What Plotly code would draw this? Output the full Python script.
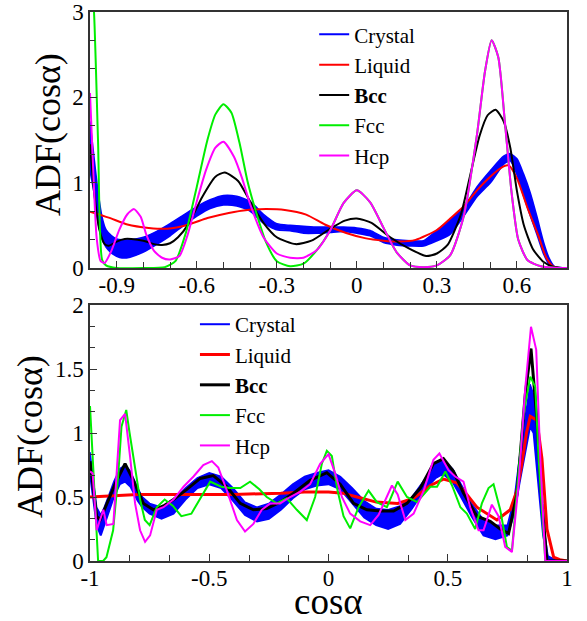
import plotly.graph_objects as go

# ---------------- TOP PANEL DATA ----------------
top_crys_x = [-1.0, -0.985, -0.97, -0.955, -0.94, -0.92, -0.9, -0.88, -0.85, -0.8, -0.75, -0.7, -0.65, -0.6,
              -0.55, -0.5, -0.45, -0.4, -0.35, -0.3, -0.25, -0.2, -0.15, -0.1, -0.05, 0.0, 0.05, 0.1, 0.15,
              0.2, 0.25, 0.3, 0.35, 0.4, 0.45, 0.5, 0.55, 0.575, 0.6, 0.625, 0.65, 0.675, 0.7, 0.72, 0.74, 0.79]
top_crys_hi = [1.72, 1.3, 0.9, 0.6, 0.45, 0.38, 0.34, 0.33, 0.33, 0.36, 0.43, 0.52, 0.62, 0.72,
               0.80, 0.85, 0.84, 0.78, 0.63, 0.52, 0.5, 0.49, 0.48, 0.48, 0.48, 0.47, 0.44, 0.36, 0.33,
               0.32, 0.32, 0.44, 0.57, 0.71, 0.95, 1.14, 1.31, 1.34, 1.28, 1.10, 0.88, 0.60, 0.30, 0.12, 0.02, 0.0]
top_crys_lo = [1.15, 0.9, 0.55, 0.35, 0.25, 0.18, 0.14, 0.12, 0.13, 0.19, 0.28, 0.38, 0.50, 0.61,
               0.70, 0.74, 0.73, 0.67, 0.53, 0.45, 0.44, 0.41, 0.41, 0.42, 0.43, 0.41, 0.38, 0.30, 0.27,
               0.26, 0.26, 0.32, 0.40, 0.61, 0.84, 1.00, 1.22, 1.26, 1.10, 0.85, 0.62, 0.40, 0.17, 0.05, 0.01, 0.0]

top_liq_x = [-1.0, -0.93, -0.86, -0.78, -0.71, -0.63, -0.56, -0.48, -0.41, -0.34, -0.27, -0.19, -0.12, -0.04,
             0.03, 0.1, 0.16, 0.22, 0.3, 0.35, 0.4, 0.45, 0.5, 0.55, 0.57, 0.6, 0.64, 0.68, 0.71, 0.735, 0.76, 0.79]
top_liq_y = [0.66, 0.59, 0.51, 0.47, 0.46, 0.51, 0.585, 0.645, 0.68, 0.69, 0.68, 0.625, 0.51, 0.41,
             0.35, 0.32, 0.31, 0.33, 0.445, 0.58, 0.72, 0.91, 1.07, 1.19, 1.2, 1.05, 0.70, 0.38, 0.12, 0.02, 0.0, 0.0]

top_bcc_x = [-1.0, -0.985, -0.965, -0.945, -0.93, -0.9, -0.87, -0.845, -0.8, -0.76, -0.73, -0.7, -0.67, -0.63,
             -0.58, -0.53, -0.495, -0.445, -0.4, -0.35, -0.3, -0.23, -0.17, -0.1, -0.045, 0.0, 0.055, 0.125,
             0.2, 0.26, 0.3, 0.34, 0.39, 0.425, 0.46, 0.49, 0.52, 0.55, 0.575, 0.6, 0.625, 0.66, 0.7, 0.74, 0.79]
top_bcc_y = [1.45, 0.9, 0.45, 0.28, 0.26, 0.31, 0.34, 0.34, 0.32, 0.28, 0.27, 0.29, 0.36, 0.52,
             0.83, 1.07, 1.12, 1.02, 0.78, 0.53, 0.36, 0.28, 0.32, 0.46, 0.555, 0.58, 0.53, 0.36,
             0.22, 0.14, 0.17, 0.27, 0.63, 1.09, 1.55, 1.79, 1.855, 1.72, 1.41, 0.90, 0.51, 0.22, 0.07, 0.01, 0.0]

top_fcc_x = [-1.0, -0.985, -0.97, -0.955, -0.94, -0.9, -0.8, -0.72, -0.68, -0.64, -0.6, -0.56, -0.53, -0.5,
             -0.47, -0.44, -0.41, -0.38, -0.34, -0.3, -0.25, -0.2, -0.15, -0.1, -0.05, 0.0, 0.05, 0.1, 0.15,
             0.2, 0.25, 0.3, 0.35, 0.4, 0.45, 0.48, 0.505, 0.53, 0.555, 0.58, 0.605, 0.64, 0.69, 0.75, 0.79]
top_fcc_y = [3.6, 3.0, 1.5, 0.1, 0.03, 0.0, 0.0, 0.01, 0.08, 0.42, 0.95, 1.5, 1.80, 1.92,
             1.82, 1.47, 1.02, 0.68, 0.30, 0.08, 0.02, 0.05, 0.21, 0.44, 0.76, 0.91, 0.77, 0.47, 0.18,
             0.03, 0.01, 0.03, 0.15, 0.60, 1.56, 2.30, 2.67, 2.47, 1.70, 0.88, 0.33, 0.09, 0.02, 0.0, 0.0]

top_hcp_x = [-1.0, -0.99, -0.975, -0.96, -0.945, -0.92, -0.89, -0.86, -0.835, -0.81, -0.79, -0.76, -0.73, -0.7,
             -0.665, -0.635, -0.6, -0.565, -0.53, -0.5, -0.46, -0.43, -0.4, -0.35, -0.3, -0.25, -0.2, -0.15,
             -0.1, -0.05, 0.0, 0.05, 0.1, 0.15, 0.2, 0.25, 0.3, 0.35, 0.4, 0.45, 0.48, 0.505, 0.53, 0.555,
             0.58, 0.605, 0.64, 0.69, 0.75, 0.79]
top_hcp_y = [2.05, 1.3, 0.35, 0.08, 0.06, 0.2, 0.45, 0.63, 0.69, 0.6, 0.40, 0.2, 0.12, 0.10,
             0.14, 0.38, 0.78, 1.15, 1.41, 1.48, 1.30, 1.05, 0.75, 0.36, 0.17, 0.12, 0.12, 0.21,
             0.44, 0.76, 0.91, 0.77, 0.47, 0.18, 0.03, 0.01, 0.03, 0.15, 0.60, 1.56, 2.30, 2.67, 2.47, 1.70,
             0.88, 0.33, 0.09, 0.02, 0.0, 0.0]

# ---------------- BOTTOM PANEL DATA ----------------
bot_crys_x = [-1.0, -0.985, -0.972, -0.955, -0.94, -0.92, -0.9, -0.875, -0.853, -0.83, -0.8, -0.78, -0.75, -0.7,
              -0.65, -0.6, -0.55, -0.5, -0.45, -0.4, -0.35, -0.3, -0.25, -0.2, -0.15, -0.1, -0.05, 0.0, 0.05,
              0.1, 0.15, 0.2, 0.25, 0.3, 0.35, 0.4, 0.45, 0.48, 0.52, 0.55, 0.6, 0.65, 0.7, 0.75, 0.78, 0.8,
              0.83, 0.845, 0.86, 0.88, 0.9, 0.92, 0.95, 1.0]
bot_crys_hi = [0.85, 0.6, 0.42, 0.36, 0.42, 0.52, 0.62, 0.72, 0.75, 0.70, 0.57, 0.50, 0.45, 0.42,
               0.47, 0.57, 0.65, 0.69, 0.66, 0.57, 0.46, 0.42, 0.45, 0.52, 0.60, 0.66, 0.69, 0.71, 0.66,
               0.57, 0.47, 0.41, 0.40, 0.43, 0.50, 0.63, 0.76, 0.79, 0.72, 0.62, 0.45, 0.32, 0.28, 0.28, 0.50, 0.80,
               1.20, 1.38, 1.30, 0.80, 0.30, 0.04, 0.01, 0.0]
bot_crys_lo = [0.68, 0.45, 0.28, 0.20, 0.28, 0.40, 0.50, 0.60, 0.62, 0.58, 0.47, 0.42, 0.37, 0.33,
               0.37, 0.48, 0.57, 0.60, 0.57, 0.47, 0.36, 0.31, 0.33, 0.40, 0.49, 0.56, 0.59, 0.60, 0.56,
               0.45, 0.34, 0.28, 0.25, 0.29, 0.41, 0.55, 0.65, 0.68, 0.62, 0.52, 0.35, 0.20, 0.17, 0.20, 0.38, 0.60,
               0.90, 1.05, 1.00, 0.60, 0.20, 0.02, 0.0, 0.0]

bot_liq_x = [-1.0, -0.9, -0.8, -0.6, -0.4, -0.2, -0.1, 0.0, 0.06, 0.12, 0.2, 0.29, 0.357, 0.427, 0.482, 0.538,
             0.58, 0.622, 0.706, 0.762, 0.79, 0.81, 0.83, 0.846, 0.874, 0.895, 0.916, 0.944, 0.97, 1.0]
bot_liq_y = [0.50, 0.51, 0.52, 0.52, 0.52, 0.53, 0.54, 0.54, 0.53, 0.50, 0.46, 0.45, 0.49, 0.59, 0.64, 0.61,
             0.52, 0.42, 0.32, 0.40, 0.55, 0.75, 1.0, 1.13, 1.10, 0.80, 0.25, 0.03, 0.01, 0.0]

bot_bcc_x = [-1.0, -0.986, -0.972, -0.958, -0.93, -0.895, -0.853, -0.818, -0.776, -0.734, -0.692, -0.65, -0.594,
             -0.538, -0.483, -0.426, -0.37, -0.315, -0.259, -0.203, -0.147, -0.077, -0.007, 0.049, 0.105, 0.161,
             0.217, 0.273, 0.329, 0.385, 0.44, 0.482, 0.524, 0.566, 0.622, 0.678, 0.72, 0.755, 0.79, 0.825,
             0.849, 0.874, 0.895, 0.916, 1.0]
bot_bcc_y = [0.78, 0.55, 0.35, 0.32, 0.45, 0.60, 0.76, 0.63, 0.45, 0.40, 0.43, 0.48, 0.56,
             0.645, 0.667, 0.58, 0.45, 0.40, 0.41, 0.46, 0.53, 0.63, 0.69, 0.60, 0.45, 0.40,
             0.39, 0.39, 0.45, 0.57, 0.76, 0.80, 0.70, 0.53, 0.35, 0.31, 0.25, 0.215, 0.52, 1.3,
             1.66, 1.1, 0.45, 0.0, 0.0]

bot_fcc_x = [-1.0, -0.978, -0.966, -0.945, -0.931, -0.903, -0.882, -0.868, -0.848, -0.834, -0.8125, -0.79, -0.77,
             -0.75, -0.72, -0.687, -0.652, -0.617, -0.575, -0.533, -0.496, -0.45, -0.413, -0.37, -0.329, -0.29,
             -0.259, -0.217, -0.175, -0.133, -0.091, -0.056, -0.028, -0.007, 0.014, 0.038, 0.063, 0.091, 0.126,
             0.168, 0.203, 0.245, 0.29, 0.329, 0.371, 0.427, 0.455, 0.49, 0.518, 0.553, 0.58, 0.615, 0.643,
             0.671, 0.692, 0.72, 0.748, 0.769, 0.797, 0.818, 0.846, 0.867, 0.881, 0.909, 1.0]
bot_fcc_y = [1.21, 0.48, 0.0, 0.0, 0.03, 0.24, 0.66, 1.05, 1.18, 1.0, 0.74, 0.48, 0.32,
             0.28, 0.42, 0.48, 0.43, 0.35, 0.37, 0.50, 0.62, 0.58, 0.57, 0.57, 0.62, 0.56,
             0.50, 0.45, 0.49, 0.40, 0.32, 0.50, 0.76, 0.86, 0.82, 0.55, 0.35, 0.255, 0.42,
             0.55, 0.46, 0.42, 0.62, 0.50, 0.46, 0.58, 0.58, 0.70, 0.59, 0.42, 0.37, 0.25, 0.45,
             0.57, 0.60, 0.40, 0.11, 0.08, 0.70, 1.15, 1.44, 1.36, 0.80, 0.0, 0.0]

bot_hcp_x = [-1.0, -0.989, -0.972, -0.944, -0.93, -0.902, -0.874, -0.853, -0.832, -0.811, -0.79, -0.769, -0.748,
             -0.72, -0.692, -0.65, -0.608, -0.566, -0.525, -0.489, -0.462, -0.427, -0.384, -0.35, -0.315, -0.28,
             -0.245, -0.203, -0.161, -0.119, -0.077, -0.035, 0.0, 0.028, 0.056, 0.091, 0.133, 0.175, 0.21,
             0.238, 0.266, 0.29, 0.322, 0.357, 0.399, 0.44, 0.465, 0.503, 0.531, 0.566, 0.594, 0.629, 0.65,
             0.685, 0.713, 0.741, 0.769, 0.797, 0.825, 0.849, 0.871, 0.888, 0.909, 1.0]
bot_hcp_y = [0.70, 0.685, 0.24, 0.40, 0.28, 0.29, 1.10, 1.15, 0.815, 0.45, 0.24, 0.15, 0.20,
             0.40, 0.42, 0.48, 0.58, 0.66, 0.75, 0.78, 0.73, 0.555, 0.32, 0.23, 0.29, 0.40,
             0.45, 0.45, 0.50, 0.54, 0.60, 0.76, 0.835, 0.685, 0.50, 0.37, 0.31, 0.28, 0.36,
             0.48, 0.59, 0.52, 0.32, 0.37, 0.55, 0.79, 0.84, 0.71, 0.66, 0.62, 0.42, 0.24, 0.24,
             0.44, 0.35, 0.11, 0.07, 0.60, 1.35, 1.83, 1.65, 0.80, 0.0, 0.0]

# tick labels
top_xticks = [-0.9, -0.6, -0.3, 0, 0.3, 0.6]
top_xtext = ["-0.9", "-0.6", "-0.3", "0", "0.3", "0.6"]
top_yticks = [0, 1, 2, 3]
bot_xticks = [-1, -0.5, 0, 0.5, 1]
bot_xtext = ["-1", "-0.5", "0", "0.5", "1"]
bot_yticks = [0, 0.5, 1, 1.5, 2]
bot_ytext = ["0", "0.5", "1", "1.5", "2"]

BLUE, RED, BLACK, GREEN, MAG = "#0000ff", "#ff0000", "#000000", "#00ee00", "#ff00ff"
FONT = "Liberation Serif, Times New Roman, serif"

fig = go.Figure()


def add_panel(xa, ya, leg, crys, series, shape, widths):
    cx, lo, hi = crys
    fig.add_trace(go.Scatter(x=cx, y=lo, mode="lines", name="Crystal", legend=leg,
                             line=dict(color=BLUE, width=2, shape=shape, smoothing=0.6),
                             xaxis=xa, yaxis=ya))
    fig.add_trace(go.Scatter(x=cx, y=hi, mode="lines", name="Crystal", legend=leg, showlegend=False,
                             fill="tonexty", fillcolor=BLUE,
                             line=dict(color=BLUE, width=1.5, shape=shape, smoothing=0.6),
                             xaxis=xa, yaxis=ya))
    for (name, x, y, col), w in zip(series, widths):
        fig.add_trace(go.Scatter(x=x, y=y, mode="lines", name=name, legend=leg,
                                 line=dict(color=col, width=w, shape=shape, smoothing=0.6),
                                 xaxis=xa, yaxis=ya))


add_panel("x", "y", "legend", (top_crys_x, top_crys_lo, top_crys_hi),
          [("Liquid", top_liq_x, top_liq_y, RED), ("<b>Bcc</b>", top_bcc_x, top_bcc_y, BLACK),
           ("Fcc", top_fcc_x, top_fcc_y, GREEN), ("Hcp", top_hcp_x, top_hcp_y, MAG)],
          "spline", [2, 2, 2, 2])
add_panel("x2", "y2", "legend2", (bot_crys_x, bot_crys_lo, bot_crys_hi),
          [("Liquid", bot_liq_x, bot_liq_y, RED), ("<b>Bcc</b>", bot_bcc_x, bot_bcc_y, BLACK),
           ("Fcc", bot_fcc_x, bot_fcc_y, GREEN), ("Hcp", bot_hcp_x, bot_hcp_y, MAG)],
          "linear", [3, 3, 2, 2])

axis_common = dict(showline=True, linecolor="#333333", linewidth=1.5, mirror=True, ticks="inside",
                   ticklen=7, tickwidth=1.2, tickcolor="#333333", showgrid=False, zeroline=False,
                   automargin=False, tickfont=dict(family=FONT, size=23, color="black"))

fig.update_layout(
    width=587, height=621,
    margin=dict(l=90, r=20, t=12, b=60, autoexpand=False),
    plot_bgcolor="white", paper_bgcolor="white",
    font=dict(family=FONT, color="black"),
    xaxis=dict(domain=[0, 1], anchor="y", range=[-1, 0.7875], tickmode="array",
               tickvals=top_xticks, ticktext=top_xtext, ticklabelstandoff=-4,
               minor=dict(dtick=0.1, tick0=0, ticks="inside", ticklen=6, tickcolor="#333333"), **axis_common),
    yaxis=dict(domain=[0.5337, 1], anchor="x", range=[0, 3], tickmode="array", tickvals=top_yticks,
               minor=dict(dtick=1 / 3, tick0=0, ticks="inside", ticklen=5, tickcolor="#333333"), **axis_common),
    xaxis2=dict(domain=[0, 1], anchor="y2", range=[-1, 1], tickmode="array",
                tickvals=bot_xticks, ticktext=bot_xtext, ticklabelstandoff=-4,
                minor=dict(dtick=1 / 6, tick0=0, ticks="inside", ticklen=6, tickcolor="#333333"), **axis_common),
    yaxis2=dict(domain=[0, 0.4663], anchor="x2", range=[0, 2], tickmode="array",
                tickvals=bot_yticks, ticktext=bot_ytext,
                minor=dict(dtick=1 / 6, tick0=0, ticks="inside", ticklen=5, tickcolor="#333333"), **axis_common),
    legend=dict(x=0.47, y=0.996, xanchor="left", yanchor="top", bgcolor="rgba(0,0,0,0)",
                traceorder="normal", font=dict(family=FONT, size=21, color="black"), tracegroupgap=0),
    legend2=dict(x=0.22, y=0.468, xanchor="left", yanchor="top", bgcolor="rgba(0,0,0,0)",
                 traceorder="normal", font=dict(family=FONT, size=21, color="black"), tracegroupgap=0),
    showlegend=True,
    annotations=[
        dict(text="ADF(cosα)", textangle=-90, xref="paper", yref="paper",
             x=(48 - 90) / 477, y=(561 - 135) / 549, showarrow=False,
             font=dict(family=FONT, size=36, color="black"), xanchor="center", yanchor="middle"),
        dict(text="ADF(cosα)", textangle=-90, xref="paper", yref="paper",
             x=(30 - 90) / 477, y=(561 - 437) / 549, showarrow=False,
             font=dict(family=FONT, size=36, color="black"), xanchor="center", yanchor="middle"),
        dict(text="cosα", xref="paper", yref="paper", x=0.5, y=(561 - 601) / 549, showarrow=False,
             font=dict(family=FONT, size=37, color="black"), xanchor="center", yanchor="middle"),
    ],
)

fig.write_html("out.html", config={"displayModeBar": False},
               post_script="document.body.style.margin='0';document.body.style.overflow='hidden';")
